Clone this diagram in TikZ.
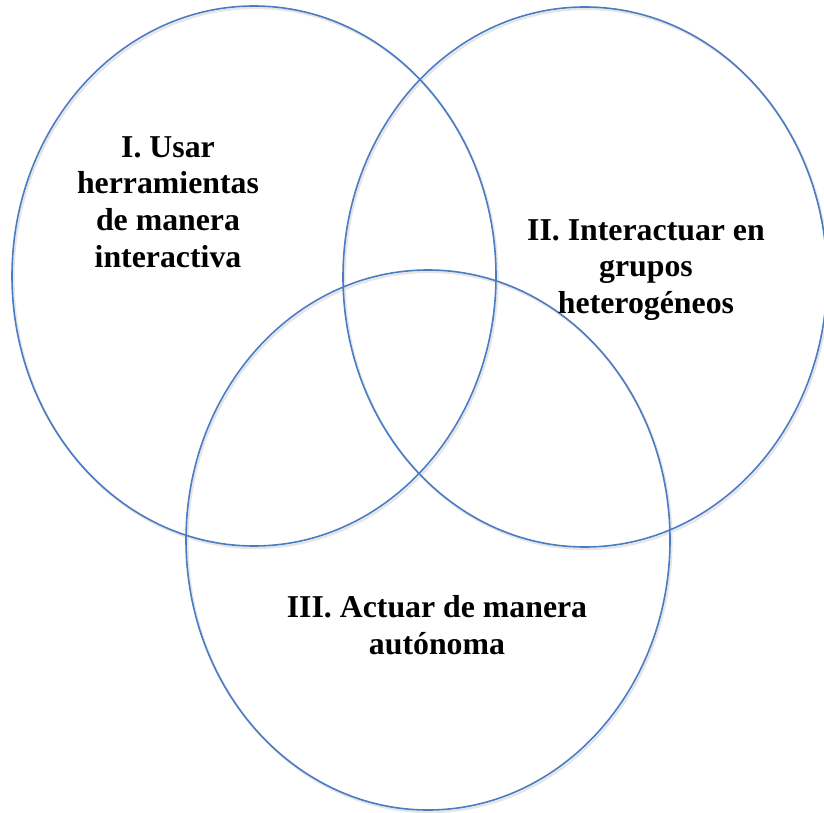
\documentclass[tikz,border=0pt]{standalone}
\usepackage{fontspec}
\setmainfont{Liberation Serif}
\usetikzlibrary{shapes.geometric}
\definecolor{vennblue}{HTML}{4A7CC4}
\tikzset{
  setshape/.style={ellipse, draw=vennblue, line width=1.6pt,
    minimum width=484pt, minimum height=540pt, inner sep=0pt},
  setshadow/.style={ellipse, draw=black!10, line width=2.2pt,
    minimum width=484pt, minimum height=540pt, inner sep=0pt},
  setlabel/.style={align=center, font=\bfseries\fontsize{31.8}{36.8}\selectfont}
}

\begin{document}
\begin{tikzpicture}[x=1pt, y=-1pt]

  \useasboundingbox (0,0) rectangle (824,813);

  % Shadows
  \node[setshadow] at (255.5,278) {};
  \node[setshadow] at (586.5,279) {};
  \node[setshadow] at (429.5,542) {};

  % Sets
  \node[setshape] (setI)   at (254,276) {};
  \node[setshape] (setII)  at (585,277) {};
  \node[setshape] (setIII) at (428,540) {};

  % Labels
  \node[setlabel] (usar)        at (168,202) {I. Usar\\herramientas\\de manera\\interactiva};
  \node[setlabel] (interactuar) at (646,270) {II. Interactuar en\\grupos\\heterogéneos};
  \node[setlabel] (actuar)      at (437,625) {III. Actuar de manera\\autónoma};

\end{tikzpicture}
\end{document}
